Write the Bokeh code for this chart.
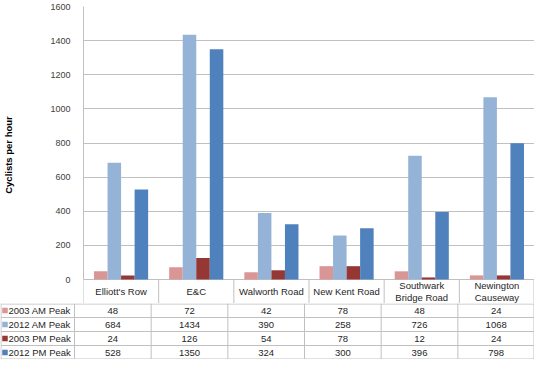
import math
from bokeh.plotting import figure
from bokeh.models import (ColumnDataSource, FactorRange, Range1d, SingleIntervalTicker)
from bokeh.transform import dodge
from bokeh.core.properties import value
from bokeh.embed import file_html
from bokeh.resources import INLINE

# ---------------- data ----------------
categories = ["Elliott's Row", "E&C", "Walworth Road", "New Kent Road",
              "Southwark\nBridge Road", "Newington\nCauseway"]
series_names = ["2003 AM Peak", "2012 AM Peak", "2003 PM Peak", "2012 PM Peak"]
am_2003 = [48, 72, 42, 78, 48, 24]
am_2012 = [684, 1434, 390, 258, 726, 1068]
pm_2003 = [24, 126, 54, 78, 12, 24]
pm_2012 = [528, 1350, 324, 300, 396, 798]
y_ticks_interval = 200
y_max = 1600
y_title = "Cyclists per hour"

# ---------------- style / layout ----------------
colors = ["#D99694", "#95B3D7", "#953735", "#4F81BD"]
FONT = "Liberation Sans"
GRID = "#C0C0C0"
TEXT = "#262626"

W = 534
LEFT = 74            # px from figure left to plot frame
TOP_PAD = 6
PLOT_PX = 273
HEAD_PX = 24
ROW_PX = 14
n = len(categories)
cat_px = (W - LEFT) / n
u_per_px = y_max / PLOT_PX
y_low = -HEAD_PX * u_per_px

series = [am_2003, am_2012, pm_2003, pm_2012]
src = ColumnDataSource(dict(cat=categories, s0=am_2003, s1=am_2012, s2=pm_2003, s3=pm_2012))

p = figure(width=W, height=TOP_PAD + PLOT_PX + HEAD_PX,
           x_range=FactorRange(factors=categories, range_padding=0),
           y_range=Range1d(y_low, y_max), output_backend="svg", toolbar_location=None,
           min_border_left=LEFT, min_border_right=0, min_border_top=TOP_PAD, min_border_bottom=0)
offsets = [-0.27, -0.09, 0.09, 0.27]
for i in range(4):
    p.vbar(x=dodge("cat", offsets[i], range=p.x_range), top="s%d" % i, width=0.18,
           source=src, fill_color=colors[i], line_color=None)

p.xaxis.visible = False
p.xgrid.visible = False
p.outline_line_color = None
p.yaxis.ticker = SingleIntervalTicker(interval=y_ticks_interval)
p.ygrid.ticker = SingleIntervalTicker(interval=y_ticks_interval)
p.yaxis.bounds = (0, y_max)
p.ygrid.grid_line_color = GRID
p.yaxis.axis_line_color = GRID
p.yaxis.major_tick_line_color = None
p.yaxis.minor_tick_line_color = None
p.yaxis.major_label_text_font = FONT
p.yaxis.major_label_text_font_size = "9px"
p.yaxis.major_label_text_color = "#404040"
p.yaxis.major_label_standoff = 7
p.yaxis.axis_label = y_title
p.yaxis.axis_label_text_font = FONT
p.yaxis.axis_label_text_font_size = "9.5px"
p.yaxis.axis_label_text_font_style = "bold"
p.yaxis.axis_label_text_color = "#000000"
p.yaxis.axis_label_standoff = 33

# header row of the data table (below zero)
p.segment(x0=[c if c < n else n - 0.5 / cat_px for c in range(n + 1)], y0=[y_low] * (n + 1),
          x1=[c if c < n else n - 0.5 / cat_px for c in range(n + 1)], y1=[0] * (n + 1),
          line_color=GRID, line_width=1)
p.text(x=[i + 0.5 for i in range(n)], y=[y_low / 2] * n, text=categories,
       text_align="center", text_baseline="middle", text_font=value(FONT),
       text_font_size="9.5px", text_color=TEXT, text_line_height=1.15)

# ---------------- data table rows ----------------
NROW = 4
TAB_H = NROW * ROW_PX
L = LEFT / cat_px
ex = 0.5 / cat_px
ey = 0.5 / ROW_PX

t = figure(width=W, height=TAB_H, x_range=Range1d(-L, n), y_range=Range1d(-NROW, 0),
           output_backend="svg", toolbar_location=None,
           min_border_left=0, min_border_right=0, min_border_top=0, min_border_bottom=0)
t.axis.visible = False
t.grid.visible = False
t.outline_line_color = None

x0s, y0s, x1s, y1s = [], [], [], []
for r in range(NROW + 1):
    yy = -r if r < NROW else -NROW + ey
    if r == 0:
        yy = -ey
    x0s.append(-L + ex); x1s.append(n); y0s.append(yy); y1s.append(yy)
x0s.append(-L + ex); x1s.append(-L + ex); y0s.append(-NROW); y1s.append(0)
for c in range(n + 1):
    xx = c if c < n else n - ex
    x0s.append(xx); x1s.append(xx); y0s.append(-NROW); y1s.append(0)
t.segment(x0=x0s, y0=y0s, x1=x1s, y1=y1s, line_color=GRID, line_width=1)

for r in range(NROW):
    yc = -r - 0.5
    t.text(x=[i + 0.5 for i in range(n)], y=[yc] * n, text=[str(v) for v in series[r]],
           text_align="center", text_baseline="middle", text_font=value(FONT),
           text_font_size="9.5px", text_color=TEXT)
    t.scatter(x=[-L + 4.5 / cat_px], y=[yc], marker="square", size=5.5,
              fill_color=colors[r], line_color=None)
    t.text(x=[-L + 8 / cat_px], y=[yc], text=[series_names[r]], text_align="left",
           text_baseline="middle", text_font=value(FONT), text_font_size="9.5px",
           text_color=TEXT)

open("out.html", "w").write(file_html([p, t], INLINE))
